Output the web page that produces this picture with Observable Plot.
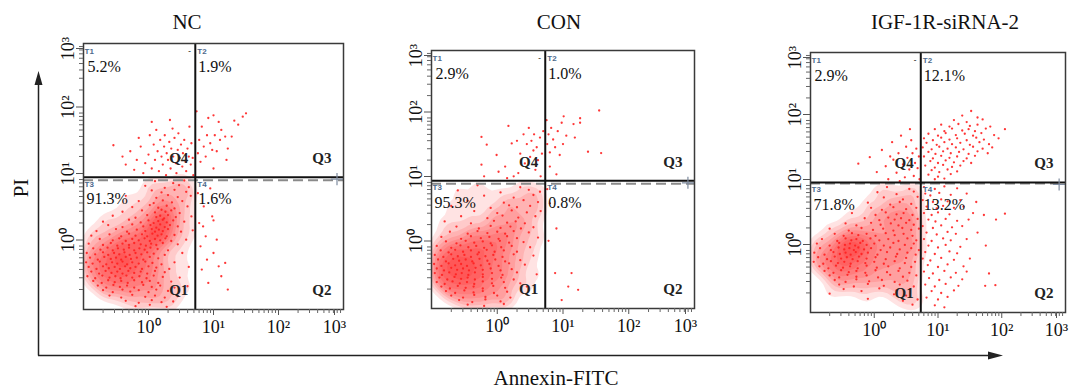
<!DOCTYPE html>
<html><head><meta charset="utf-8">
<script src="https://cdn.jsdelivr.net/npm/d3@7"></script>
<script src="https://cdn.jsdelivr.net/npm/@observablehq/plot@0.6"></script>
<style>
body{margin:0;background:#fff;}
#wrap{position:relative;width:1070px;height:389px;overflow:hidden;background:#fff;}
</style></head><body><div id="wrap"></div>
<script>
// ---------- DATA (log10 units of fluorescence: x = Annexin-FITC, y = PI) ----------
const panelTitles = ["NC", "CON", "IGF-1R-siRNA-2"];
// quadrant percentages: [T1 upper-left, T2 upper-right, T3 lower-left, T4 lower-right]
const pctNC  = ["5.2%", "1.9%", "91.3%", "1.6%"];
const pctCON = ["2.9%", "1.0%", "95.3%", "0.8%"];
const pctIGF = ["2.9%", "12.1%", "71.8%", "13.2%"];
const gateX = [0.72, 0.73, 0.73];
const gateY = [0.99, 0.98, 1.00];
const decadeTicks = [0, 1, 2, 3];
const decadeLabels = ["10\u2070", "10\u00b9", "10\u00b2", "10\u00b3"];
const quadrantNames = ["Q4", "Q3", "Q1", "Q2"];
const gateNames = ["T1", "T2", "T3", "T4"];

const ncQ1 = [[0.10,0.93],[0.38,0.90],[0.55,0.94],[-0.05,0.86],[0.25,0.83],[0.47,0.87],[0.62,0.84],[0.05,0.79],[0.20,0.76],[0.40,0.80],[0.58,0.77],[-0.35,0.71],[0.12,0.68],[0.30,0.72],[0.45,0.69],[0.65,0.71],[-0.15,0.63],[0.08,0.60],[0.22,0.64],[0.36,0.61],[0.52,0.63],[-0.25,0.54],[0.02,0.57],[0.15,0.53],[0.28,0.56],[0.40,0.52],[0.60,0.55],[-0.40,0.47],[-0.10,0.49],[0.10,0.46],[0.20,0.50],[0.26,0.47],[0.35,0.49],[0.48,0.45],[-0.55,0.41],[-0.20,0.38],[-0.02,0.42],[0.12,0.39],[0.18,0.41],[0.24,0.37],[0.30,0.42],[0.42,0.39],[0.66,0.40],[-0.70,0.32],[-0.30,0.35],[-0.12,0.31],[0.00,0.34],[0.08,0.30],[0.15,0.33],[0.22,0.35],[0.28,0.31],[0.38,0.34],[0.55,0.32],[-0.62,0.27],[-0.40,0.24],[-0.25,0.28],[-0.08,0.25],[0.03,0.27],[0.12,0.23],[0.18,0.28],[0.25,0.24],[0.33,0.27],[0.45,0.25],[-0.80,0.18],[-0.50,0.21],[-0.33,0.17],[-0.18,0.20],[-0.05,0.18],[0.05,0.21],[0.10,0.17],[0.16,0.20],[0.22,0.18],[0.30,0.21],[0.50,0.17],[0.68,0.19],[-0.88,0.11],[-0.60,0.13],[-0.42,0.10],[-0.30,0.14],[-0.20,0.11],[-0.10,0.13],[-0.02,0.10],[0.06,0.14],[0.14,0.11],[0.20,0.13],[0.28,0.10],[0.40,0.12],[-0.75,0.06],[-0.55,0.04],[-0.45,0.07],[-0.35,0.03],[-0.25,0.06],[-0.15,0.04],[-0.06,0.07],[0.02,0.03],[0.10,0.06],[0.18,0.04],[0.26,0.07],[0.35,0.03],[0.58,0.05],[-0.92,-0.01],[-0.70,-0.03],[-0.58,0.00],[-0.48,-0.04],[-0.40,-0.01],[-0.30,-0.03],[-0.22,0.00],[-0.12,-0.02],[-0.04,-0.04],[0.04,-0.01],[0.12,-0.03],[0.22,0.00],[0.45,-0.02],[-0.85,-0.08],[-0.74,-0.10],[-0.63,-0.07],[-0.55,-0.11],[-0.47,-0.08],[-0.38,-0.10],[-0.30,-0.07],[-0.22,-0.11],[-0.14,-0.08],[-0.06,-0.10],[0.03,-0.07],[0.14,-0.09],[0.30,-0.11],[-0.95,-0.15],[-0.82,-0.17],[-0.70,-0.14],[-0.62,-0.18],[-0.53,-0.15],[-0.45,-0.17],[-0.37,-0.14],[-0.29,-0.18],[-0.20,-0.15],[-0.11,-0.17],[-0.02,-0.14],[0.08,-0.16],[0.25,-0.18],[0.52,-0.15],[-0.90,-0.22],[-0.78,-0.25],[-0.68,-0.21],[-0.58,-0.24],[-0.50,-0.22],[-0.42,-0.25],[-0.35,-0.21],[-0.27,-0.24],[-0.18,-0.22],[-0.08,-0.25],[0.02,-0.21],[0.15,-0.23],[-0.96,-0.29],[-0.86,-0.31],[-0.75,-0.28],[-0.65,-0.32],[-0.56,-0.29],[-0.48,-0.31],[-0.40,-0.28],[-0.33,-0.32],[-0.25,-0.29],[-0.15,-0.31],[-0.05,-0.28],[0.06,-0.30],[0.20,-0.32],[0.40,-0.29],[-0.92,-0.36],[-0.80,-0.39],[-0.70,-0.35],[-0.61,-0.38],[-0.52,-0.36],[-0.44,-0.39],[-0.36,-0.35],[-0.28,-0.38],[-0.20,-0.36],[-0.10,-0.39],[0.00,-0.35],[0.12,-0.37],[0.32,-0.39],[0.62,-0.36],[-0.88,-0.43],[-0.76,-0.46],[-0.66,-0.42],[-0.57,-0.45],[-0.48,-0.43],[-0.40,-0.46],[-0.31,-0.42],[-0.22,-0.45],[-0.12,-0.43],[-0.02,-0.46],[0.10,-0.42],[0.25,-0.44],[-0.94,-0.50],[-0.82,-0.53],[-0.71,-0.49],[-0.60,-0.52],[-0.51,-0.50],[-0.43,-0.53],[-0.34,-0.49],[-0.25,-0.52],[-0.14,-0.50],[-0.03,-0.53],[0.08,-0.49],[0.22,-0.51],[0.48,-0.52],[-0.85,-0.57],[-0.72,-0.60],[-0.62,-0.56],[-0.52,-0.59],[-0.42,-0.57],[-0.32,-0.60],[-0.22,-0.56],[-0.10,-0.59],[0.02,-0.57],[0.15,-0.60],[0.35,-0.58],[-0.78,-0.64],[-0.65,-0.67],[-0.54,-0.63],[-0.44,-0.66],[-0.33,-0.64],[-0.22,-0.67],[-0.08,-0.63],[0.05,-0.66],[0.18,-0.64],[0.40,-0.67],[0.60,-0.65],[-0.70,-0.71],[-0.55,-0.74],[-0.40,-0.70],[-0.28,-0.73],[-0.15,-0.71],[0.00,-0.74],[0.12,-0.70],[0.30,-0.72],[-0.60,-0.79],[-0.42,-0.82],[-0.25,-0.78],[-0.05,-0.81],[0.10,-0.79],[0.25,-0.82],[0.45,-0.80],[-0.35,-0.87],[-0.15,-0.90],[0.05,-0.86],[0.20,-0.89],[0.38,-0.88],[-0.20,-0.95],[0.02,-0.93],[0.28,-0.96]];
const ncQ4 = [[-0.54,1.47],[-0.40,1.30],[-0.35,1.18],[-0.28,1.38],[-0.22,1.10],[-0.18,1.25],[-0.12,1.45],[-0.08,1.05],[-0.05,1.20],[0.00,1.33],[0.02,1.62],[0.05,1.12],[0.08,1.48],[0.10,1.25],[0.12,1.70],[0.14,1.38],[0.16,1.08],[0.18,1.55],[0.20,1.30],[0.22,1.18],[0.24,1.45],[0.25,1.62],[0.27,1.02],[0.28,1.35],[0.30,1.25],[0.32,1.52],[0.34,1.12],[0.35,1.42],[0.37,1.72],[0.38,1.30],[0.40,1.58],[0.42,1.20],[0.43,1.05],[0.45,1.40],[0.46,1.65],[0.48,1.28],[0.50,1.48],[0.52,1.15],[0.53,1.35],[0.55,1.55],[0.57,1.22],[0.58,1.08],[0.60,1.42],[0.62,1.30],[0.63,1.75],[0.65,1.18],[0.66,1.50],[0.68,1.28],[0.69,1.02],[-0.15,1.58],[0.05,1.82],[0.33,1.85]];
const ncQ3 = [[0.74,1.98],[0.76,1.35],[0.78,1.55],[0.80,1.22],[0.82,1.75],[0.85,1.45],[0.88,1.30],[0.90,1.62],[0.92,1.88],[0.95,1.50],[0.98,1.40],[1.00,1.92],[1.02,1.62],[1.05,1.38],[1.08,1.82],[1.10,1.55],[1.12,1.70],[1.18,1.60],[1.22,1.42],[1.28,1.60],[1.32,1.84],[1.38,1.78],[1.45,1.90],[1.50,1.95],[1.20,1.25],[1.00,1.12]];
const ncQ2 = [[0.76,0.75],[0.78,0.30],[0.80,-0.05],[0.82,-0.40],[0.85,0.55],[0.88,0.10],[0.90,-0.25],[0.92,-0.60],[0.95,0.82],[0.98,0.40],[1.00,0.34],[1.00,-0.15],[1.05,0.05],[1.08,-0.35],[1.12,-0.50],[1.18,-0.30],[1.22,-0.70],[0.84,0.25]];

const conQ1 = [[-0.30,0.91],[0.35,0.88],[-0.60,0.83],[0.05,0.80],[0.48,0.84],[0.65,0.81],[-0.20,0.75],[0.25,0.72],[0.55,0.76],[-0.45,0.67],[0.10,0.64],[0.40,0.68],[0.62,0.65],[-0.70,0.59],[-0.10,0.56],[0.18,0.60],[0.30,0.57],[0.50,0.59],[-0.35,0.51],[0.00,0.48],[0.22,0.52],[0.45,0.49],[0.66,0.51],[-0.55,0.43],[-0.15,0.40],[0.08,0.44],[0.32,0.41],[0.58,0.43],[-0.80,0.35],[-0.40,0.32],[-0.05,0.36],[0.15,0.33],[0.28,0.35],[0.42,0.32],[-0.62,0.27],[-0.28,0.24],[-0.10,0.28],[0.05,0.25],[0.20,0.27],[0.36,0.24],[0.55,0.26],[-0.72,0.19],[-0.45,0.16],[-0.30,0.20],[-0.15,0.17],[0.00,0.19],[0.12,0.16],[0.25,0.20],[0.48,0.18],[-0.85,0.11],[-0.55,0.08],[-0.40,0.12],[-0.25,0.09],[-0.12,0.11],[0.02,0.08],[0.15,0.12],[0.30,0.09],[0.62,0.10],[-0.78,0.04],[-0.62,0.01],[-0.48,0.05],[-0.35,0.02],[-0.22,0.04],[-0.10,0.01],[0.04,0.05],[0.18,0.02],[0.40,0.03],[-0.92,-0.03],[-0.70,-0.06],[-0.56,-0.02],[-0.44,-0.05],[-0.32,-0.03],[-0.20,-0.06],[-0.08,-0.02],[0.06,-0.05],[0.22,-0.03],[0.50,-0.05],[-0.86,-0.10],[-0.74,-0.13],[-0.64,-0.09],[-0.52,-0.12],[-0.40,-0.10],[-0.28,-0.13],[-0.16,-0.09],[-0.04,-0.12],[0.10,-0.10],[0.30,-0.12],[-0.95,-0.17],[-0.82,-0.20],[-0.70,-0.16],[-0.60,-0.19],[-0.50,-0.17],[-0.40,-0.20],[-0.30,-0.16],[-0.18,-0.19],[-0.06,-0.17],[0.08,-0.20],[0.25,-0.16],[0.55,-0.18],[-0.90,-0.24],[-0.78,-0.27],[-0.67,-0.23],[-0.58,-0.26],[-0.48,-0.24],[-0.38,-0.27],[-0.27,-0.23],[-0.15,-0.26],[-0.03,-0.24],[0.12,-0.27],[0.35,-0.25],[-0.96,-0.31],[-0.85,-0.34],[-0.74,-0.30],[-0.64,-0.33],[-0.55,-0.31],[-0.46,-0.34],[-0.36,-0.30],[-0.25,-0.33],[-0.12,-0.31],[0.02,-0.34],[0.18,-0.30],[0.42,-0.32],[-0.92,-0.38],[-0.81,-0.41],[-0.70,-0.37],[-0.61,-0.40],[-0.52,-0.38],[-0.43,-0.41],[-0.33,-0.37],[-0.22,-0.40],[-0.10,-0.38],[0.05,-0.41],[0.22,-0.39],[-0.95,-0.45],[-0.84,-0.48],[-0.73,-0.44],[-0.63,-0.47],[-0.54,-0.45],[-0.44,-0.48],[-0.34,-0.44],[-0.22,-0.47],[-0.08,-0.45],[0.08,-0.48],[0.30,-0.44],[0.60,-0.47],[-0.88,-0.52],[-0.76,-0.55],[-0.65,-0.51],[-0.55,-0.54],[-0.45,-0.52],[-0.34,-0.55],[-0.22,-0.51],[-0.08,-0.54],[0.06,-0.52],[0.25,-0.55],[-0.92,-0.59],[-0.80,-0.62],[-0.68,-0.58],[-0.57,-0.61],[-0.46,-0.59],[-0.35,-0.62],[-0.22,-0.58],[-0.08,-0.61],[0.10,-0.59],[0.35,-0.61],[-0.85,-0.66],[-0.72,-0.69],[-0.60,-0.65],[-0.48,-0.68],[-0.36,-0.66],[-0.22,-0.69],[-0.06,-0.65],[0.12,-0.68],[0.45,-0.66],[-0.78,-0.73],[-0.64,-0.76],[-0.50,-0.72],[-0.36,-0.75],[-0.22,-0.73],[-0.05,-0.76],[0.15,-0.74],[-0.70,-0.80],[-0.52,-0.83],[-0.35,-0.79],[-0.18,-0.82],[0.00,-0.80],[0.20,-0.83],[-0.58,-0.87],[-0.38,-0.90],[-0.18,-0.86],[0.05,-0.89],[-0.45,-0.94],[-0.20,-0.96],[0.10,-0.93]];
const conQ4 = [[-0.24,1.66],[-0.16,1.54],[-0.01,1.38],[0.17,1.83],[-0.24,1.23],[0.02,1.12],[0.12,1.20],[0.22,1.56],[0.32,1.10],[0.48,1.80],[0.52,1.60],[0.56,1.70],[0.60,1.50],[0.65,1.65],[0.68,1.40],[0.62,1.30],[0.55,1.45],[0.50,1.35],[0.45,1.55],[0.42,1.25],[0.58,1.15],[0.66,1.05],[0.40,1.70],[0.35,1.40],[0.30,1.60],[0.70,1.75],[0.15,1.02],[-0.20,1.05],[0.25,1.05]];
const conQ3 = [[0.75,1.92],[0.76,1.55],[0.78,1.70],[0.80,1.42],[0.82,1.80],[0.85,1.62],[0.88,1.50],[0.92,1.75],[0.95,1.38],[1.00,1.55],[1.01,1.98],[1.16,1.86],[1.26,1.95],[1.26,1.88],[1.18,1.65],[1.38,1.43],[1.55,2.07],[1.58,1.41],[0.98,1.88],[0.80,1.20],[0.90,1.08],[1.05,1.68]];
const conQ2 = [[0.80,0.63],[0.90,0.24],[0.76,0.85],[0.88,-0.45],[1.13,-0.45],[1.08,-0.66],[1.23,-0.71],[0.98,-0.87],[0.78,0.05]];

const igfQ1 = [[0.20,0.93],[0.55,0.90],[0.05,0.85],[0.35,0.82],[0.62,0.86],[0.15,0.77],[0.45,0.74],[0.68,0.78],[-0.10,0.69],[0.25,0.66],[0.40,0.70],[0.58,0.67],[-0.05,0.61],[0.12,0.58],[0.30,0.62],[0.50,0.59],[0.66,0.61],[-0.35,0.53],[0.02,0.50],[0.18,0.54],[0.35,0.51],[0.46,0.53],[0.60,0.50],[-0.15,0.45],[0.08,0.42],[0.22,0.46],[0.32,0.43],[0.42,0.45],[0.55,0.42],[0.68,0.44],[-0.45,0.37],[-0.28,0.34],[-0.05,0.38],[0.10,0.35],[0.26,0.37],[0.38,0.34],[0.50,0.38],[0.62,0.35],[-0.70,0.29],[-0.40,0.26],[-0.20,0.30],[-0.02,0.27],[0.14,0.29],[0.30,0.26],[0.44,0.30],[0.58,0.27],[0.70,0.29],[-0.62,0.21],[-0.48,0.18],[-0.35,0.22],[-0.25,0.19],[-0.12,0.21],[0.02,0.18],[0.18,0.22],[0.32,0.19],[0.46,0.21],[0.60,0.18],[-0.82,0.13],[-0.58,0.10],[-0.45,0.14],[-0.36,0.11],[-0.28,0.13],[-0.18,0.10],[-0.06,0.14],[0.08,0.11],[0.22,0.13],[0.38,0.10],[0.52,0.14],[0.66,0.11],[-0.90,0.06],[-0.70,0.03],[-0.55,0.07],[-0.46,0.04],[-0.38,0.06],[-0.30,0.03],[-0.22,0.07],[-0.12,0.04],[0.00,0.06],[0.15,0.03],[0.30,0.07],[0.48,0.04],[0.62,0.06],[-0.85,-0.01],[-0.68,-0.04],[-0.56,0.00],[-0.47,-0.03],[-0.39,-0.01],[-0.32,-0.04],[-0.25,0.00],[-0.16,-0.03],[-0.05,-0.01],[0.10,-0.04],[0.25,0.00],[0.40,-0.03],[0.58,-0.01],[0.70,-0.04],[-0.94,-0.08],[-0.78,-0.11],[-0.64,-0.07],[-0.54,-0.10],[-0.45,-0.08],[-0.37,-0.11],[-0.29,-0.07],[-0.20,-0.10],[-0.10,-0.08],[0.05,-0.11],[0.20,-0.07],[0.36,-0.10],[0.52,-0.08],[0.65,-0.11],[-0.88,-0.15],[-0.74,-0.18],[-0.62,-0.14],[-0.52,-0.17],[-0.43,-0.15],[-0.34,-0.18],[-0.24,-0.14],[-0.12,-0.17],[0.02,-0.15],[0.18,-0.18],[0.34,-0.14],[0.50,-0.16],[-0.95,-0.22],[-0.80,-0.25],[-0.68,-0.21],[-0.57,-0.24],[-0.47,-0.22],[-0.37,-0.25],[-0.26,-0.21],[-0.14,-0.24],[0.00,-0.22],[0.15,-0.25],[0.32,-0.21],[0.48,-0.24],[0.64,-0.22],[-0.86,-0.29],[-0.72,-0.32],[-0.60,-0.28],[-0.49,-0.31],[-0.38,-0.29],[-0.26,-0.32],[-0.12,-0.28],[0.04,-0.31],[0.22,-0.29],[0.40,-0.32],[0.58,-0.30],[-0.78,-0.36],[-0.64,-0.39],[-0.52,-0.35],[-0.40,-0.38],[-0.28,-0.36],[-0.14,-0.39],[0.02,-0.35],[0.20,-0.38],[0.38,-0.36],[0.55,-0.39],[-0.70,-0.43],[-0.55,-0.46],[-0.42,-0.42],[-0.28,-0.45],[-0.12,-0.43],[0.06,-0.46],[0.25,-0.42],[0.45,-0.45],[0.66,-0.43],[-0.62,-0.50],[-0.45,-0.53],[-0.28,-0.49],[-0.08,-0.52],[0.12,-0.50],[0.32,-0.53],[0.52,-0.51],[-0.55,-0.57],[-0.32,-0.60],[-0.10,-0.56],[0.15,-0.59],[0.40,-0.57],[0.62,-0.60],[-0.48,-0.64],[-0.20,-0.67],[0.08,-0.63],[0.35,-0.66],[0.56,-0.64],[-0.70,-0.71],[0.31,-0.72],[0.50,-0.74],[-0.10,-0.79],[0.45,-0.82],[0.68,-0.80],[0.60,-0.88]];
const igfQ4 = [[-0.25,1.29],[-0.07,1.39],[0.04,1.16],[0.12,1.50],[0.18,1.25],[0.22,1.05],[0.28,1.62],[0.30,1.35],[0.35,1.15],[0.38,1.45],[0.42,1.72],[0.45,1.28],[0.48,1.08],[0.50,1.55],[0.52,1.38],[0.55,1.20],[0.58,1.65],[0.60,1.45],[0.62,1.10],[0.64,1.30],[0.66,1.52],[0.68,1.22],[0.70,1.40],[0.71,1.05],[0.40,1.02],[0.25,1.40],[0.56,1.82]];
const igfQ3 = [[1.52,2.10],[1.38,2.03],[1.62,2.00],[1.25,1.96],[1.45,1.93],[1.70,1.97],[1.05,1.89],[1.18,1.86],[1.32,1.90],[1.50,1.87],[1.62,1.89],[1.82,1.86],[0.95,1.82],[1.10,1.79],[1.22,1.83],[1.38,1.80],[1.48,1.82],[1.58,1.79],[1.75,1.83],[2.05,1.82],[0.85,1.75],[1.00,1.72],[1.12,1.76],[1.28,1.73],[1.42,1.75],[1.55,1.72],[1.68,1.76],[1.88,1.73],[0.78,1.68],[0.92,1.65],[1.05,1.69],[1.18,1.66],[1.30,1.68],[1.45,1.65],[1.60,1.69],[1.72,1.66],[1.95,1.68],[0.82,1.61],[0.98,1.58],[1.10,1.62],[1.22,1.59],[1.35,1.61],[1.50,1.58],[1.65,1.62],[1.80,1.59],[0.76,1.54],[0.90,1.51],[1.02,1.55],[1.15,1.52],[1.28,1.54],[1.40,1.51],[1.55,1.55],[1.70,1.52],[1.85,1.54],[0.85,1.47],[0.96,1.44],[1.08,1.48],[1.20,1.45],[1.33,1.47],[1.48,1.44],[1.62,1.48],[1.78,1.45],[0.78,1.40],[0.92,1.37],[1.05,1.41],[1.18,1.38],[1.30,1.40],[1.45,1.37],[1.58,1.41],[0.88,1.33],[1.00,1.30],[1.12,1.34],[1.25,1.31],[1.40,1.33],[1.52,1.30],[0.80,1.26],[0.95,1.23],[1.08,1.27],[1.22,1.24],[1.35,1.26],[0.90,1.19],[1.02,1.16],[1.15,1.20],[1.30,1.17],[0.85,1.12],[1.00,1.09],[1.20,1.13],[0.95,1.05],[1.10,1.06]];
const igfQ2 = [[0.78,0.93],[0.95,0.90],[1.10,0.94],[1.30,0.91],[0.80,0.83],[0.88,0.80],[1.02,0.84],[1.20,0.81],[1.45,0.83],[0.76,0.73],[0.92,0.70],[1.05,0.74],[1.15,0.71],[1.35,0.73],[1.60,0.70],[0.82,0.63],[0.98,0.60],[1.08,0.64],[1.25,0.61],[1.40,0.63],[0.78,0.53],[0.90,0.50],[1.00,0.54],[1.18,0.51],[1.55,0.53],[1.72,0.50],[2.05,0.52],[0.85,0.43],[0.96,0.40],[1.12,0.44],[1.30,0.41],[1.48,0.43],[1.91,0.43],[0.76,0.33],[0.92,0.30],[1.05,0.34],[1.22,0.31],[1.38,0.33],[0.82,0.23],[0.98,0.20],[1.15,0.24],[1.28,0.21],[1.62,0.23],[0.78,0.13],[0.90,0.10],[1.08,0.14],[1.20,0.11],[1.45,0.13],[0.85,0.03],[1.00,0.00],[1.12,0.04],[1.35,0.01],[1.75,0.03],[0.80,-0.07],[0.95,-0.10],[1.18,-0.06],[1.30,-0.09],[0.76,-0.17],[0.88,-0.20],[1.05,-0.16],[1.25,-0.19],[1.50,-0.17],[0.84,-0.27],[1.00,-0.30],[1.15,-0.26],[1.40,-0.29],[0.78,-0.37],[0.92,-0.40],[1.10,-0.36],[1.28,-0.39],[1.45,-0.37],[1.80,-0.40],[0.86,-0.47],[1.02,-0.50],[1.20,-0.46],[1.38,-0.49],[0.80,-0.57],[0.95,-0.60],[1.12,-0.56],[1.32,-0.59],[1.74,-0.59],[1.90,-0.58],[0.90,-0.67],[1.05,-0.70],[1.25,-0.66],[0.82,-0.77],[1.00,-0.80],[1.15,-0.76],[0.95,-0.89],[1.10,-0.92]];

// ---------- LAYOUT ----------
const serif = "Liberation Serif, Times New Roman, serif";
const boxes = [
  {left: 83, top: 43, w: 260, h: 266, dashDy: 3},
  {left: 431, top: 50, w: 263, h: 258, dashDy: 3},
  {left: 810, top: 52, w: 255, h: 260, dashDy: 1}
];
const M = {l: 44, r: 5, t: 12, b: 40};
const panels = [
  {title: panelTitles[0], pct: pctNC, q: [ncQ1, ncQ2, ncQ3, ncQ4]},
  {title: panelTitles[1], pct: pctCON, q: [conQ1, conQ2, conQ3, conQ4]},
  {title: panelTitles[2], pct: pctIGF, q: [igfQ1, igfQ2, igfQ3, igfQ4]}
];
const minorTicks = [];
for (let n = -1; n < 3; n++) for (let k = 2; k <= 9; k++) minorTicks.push(n + Math.log10(k));

const wrap = document.getElementById("wrap");
const toObj = (a) => a.map(([x, y]) => ({x, y}));

panels.forEach((p, i) => {
  const B = boxes[i], gx = gateX[i], gy = gateY[i];
  const q1 = toObj(p.q[0]);
  const all = toObj([].concat(...p.q));
  const lab = (t, x, y, o) => Plot.text([{x, y, t}], {x: "x", y: "y", text: "t", ...o});
  const tSty = {fontSize: 8, fontWeight: "bold", fill: "#4d6a8c", textAnchor: "start", lineAnchor: "middle"};
  const pSty = {fontSize: 16, fill: "#111", textAnchor: "start", lineAnchor: "middle"};
  const qSty = {fontSize: 15, fontWeight: "bold", fill: "#222", textAnchor: "end", lineAnchor: "middle"};
  const fmt = (d) => decadeLabels[decadeTicks.indexOf(d)];
  const axSty = {tickFormat: fmt, fontSize: 18, stroke: "#555", fill: "#111", label: null};
  const svg = Plot.plot({
    width: B.w + M.l + M.r, height: B.h + M.t + M.b,
    marginLeft: M.l, marginRight: M.r, marginTop: M.t, marginBottom: M.b,
    x: {domain: [-1, 3], axis: null},
    y: {domain: [-1, 3], axis: null},
    style: {background: "transparent", overflow: "visible"},
    marks: [
      Plot.density(q1, {x: "x", y: "y", fill: "#ff0000", fillOpacity: 0.11, stroke: "none", bandwidth: 5, thresholds: 10, clip: true}),
      Plot.dot(all, {x: "x", y: "y", r: 1.15, fill: "#ff2020", fillOpacity: 0.9, stroke: "none"}),
      Plot.ruleY([gy], {stroke: "#8a8a8a", strokeWidth: 2, strokeDasharray: "10,5", dy: B.dashDy}),
      Plot.ruleX([gx], {stroke: "#111", strokeWidth: 2}),
      Plot.ruleY([gy], {stroke: "#111", strokeWidth: 2}),
      Plot.dot([0], {x: () => 2.9, y: () => gy, symbol: "plus", r: 4, stroke: "#7f8ca0", strokeWidth: 1.2, dy: 2}),
      Plot.frame({stroke: "#3a3a3a", strokeWidth: 1.5}),
      Plot.axisX(minorTicks, {tickSize: 4, tickFormat: () => "", stroke: "#666", label: null}),
      Plot.axisX(decadeTicks.slice(0, 3), {...axSty, tickSize: 6, tickPadding: 5}),
      Plot.axisX(decadeTicks.slice(3), {...axSty, tickSize: 6, tickPadding: 5, dx: -9}),
      Plot.axisY(minorTicks, {tickSize: 4, tickFormat: () => "", stroke: "#666", label: null}),
      Plot.axisY(decadeTicks.slice(0, 3), {...axSty, tickSize: 7, tickPadding: 3, tickRotate: -90, dy: -3}),
      Plot.axisY(decadeTicks.slice(3), {...axSty, tickSize: 7, tickPadding: 3, tickRotate: -90, dy: 5}),
      lab(gateNames[0], -1, 3, {...tSty, dx: 1, dy: 8}),
      lab(p.pct[0], -1, 3, {...pSty, dx: 4, dy: 23}),
      lab("-", gx, 3, {...tSty, fill: "#222", dx: -7, dy: 8}),
      lab(gateNames[1], gx, 3, {...tSty, dx: 2, dy: 8}),
      lab(p.pct[1], gx, 3, {...pSty, dx: 3, dy: 23}),
      lab(gateNames[2], -1, gy, {...tSty, dx: 1, dy: 7}),
      lab(p.pct[2], -1, gy, {...pSty, dx: 3, dy: 22}),
      lab(gateNames[3], gx, gy, {...tSty, dx: 2, dy: 7}),
      lab(p.pct[3], gx, gy, {...pSty, dx: 3, dy: 22}),
      lab(quadrantNames[0], gx, gy, {...qSty, dx: -7, dy: -19}),
      lab(quadrantNames[1], 3, gy, {...qSty, dx: -12, dy: -19}),
      lab(quadrantNames[2], gx, -1, {...qSty, dx: -7, dy: -19}),
      lab(quadrantNames[3], 3, -1, {...qSty, dx: -12, dy: -19})
    ]
  });
  // font families of the text elements
  d3.select(svg).selectAll("text").style("font-family", serif)
    .filter(function () { return /^T\d$/.test(this.textContent); })
    .style("font-family", "Arial, Liberation Sans, sans-serif");
  svg.style.position = "absolute";
  svg.style.left = (B.left - M.l) + "px";
  svg.style.top = (B.top - M.t) + "px";
  wrap.appendChild(svg);
});

// ---------- outer axes, titles ----------
const ov = d3.select(wrap).append("svg")
  .attr("width", 1070).attr("height", 389)
  .style("position", "absolute").style("left", "0px").style("top", "0px")
  .style("pointer-events", "none").style("font-family", serif);
ov.append("line").attr("x1", 38.5).attr("y1", 355.5).attr("x2", 38.5).attr("y2", 84).attr("stroke", "#222").attr("stroke-width", 1.5);
ov.append("path").attr("d", "M38.5,71 L34.5,85 L42.5,85 Z").attr("fill", "#222");
ov.append("line").attr("x1", 38).attr("y1", 355.5).attr("x2", 990).attr("y2", 355.5).attr("stroke", "#222").attr("stroke-width", 1.5);
ov.append("path").attr("d", "M1003,355.5 L988,351.5 L988,359.5 Z").attr("fill", "#222");
ov.append("text").attr("transform", "translate(28,188) rotate(-90)").attr("text-anchor", "middle")
  .attr("font-size", 21).attr("fill", "#111").text("PI");
ov.append("text").attr("x", 556).attr("y", 385).attr("text-anchor", "middle")
  .attr("font-size", 21).attr("fill", "#111").text("Annexin-FITC");
const titleX = [187, 559, 945];
panels.forEach((p, i) => {
  ov.append("text").attr("x", titleX[i]).attr("y", 29).attr("text-anchor", "middle")
    .attr("font-size", 21).attr("fill", "#111").text(p.title);
});
</script>
</body></html>
